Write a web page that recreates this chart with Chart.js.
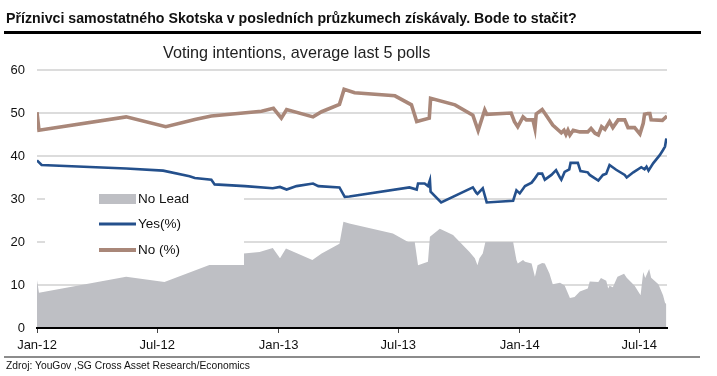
<!DOCTYPE html>
<html><head><meta charset="utf-8">
<script src="https://cdn.jsdelivr.net/npm/chart.js@4.4.1/dist/chart.umd.min.js"></script>
<style>
html,body{margin:0;padding:0;background:#fff;}
#wrap{position:relative;width:717px;height:376px;overflow:hidden;font-family:"Liberation Sans",Arial,sans-serif;}
#c{position:absolute;left:0;top:0;}
#title{position:absolute;left:6px;top:10px;font-weight:bold;font-size:14.2px;line-height:16px;color:#111;white-space:nowrap;}
#rule{position:absolute;left:4px;top:31px;width:697px;height:3px;background:#000;}
#sub{position:absolute;left:163px;top:43px;font-size:16.2px;line-height:19px;color:#222;white-space:nowrap;}
#brule{position:absolute;left:4px;top:356px;width:696px;height:2px;background:#8c8c8c;}
#src{position:absolute;left:6px;top:359px;font-size:10.3px;line-height:13px;color:#111;white-space:nowrap;}
</style></head>
<body>
<div id="wrap">
<canvas id="c" width="717" height="376"></canvas>
<div id="title">Příznivci samostatného Skotska v posledních průzkumech získávaly. Bode to stačit?</div>
<div id="rule"></div>
<div id="sub">Voting intentions, average last 5 polls</div>
<div id="brule"></div>
<div id="src">Zdroj: YouGov ,SG Cross Asset Research/Economics</div>
</div>
<script>
// x values: days since 1 Jan 2012
const tickDays = [0, 182, 366, 547, 731, 912];
const tickLabels = ['Jan-12', 'Jul-12', 'Jan-13', 'Jul-13', 'Jan-14', 'Jul-14'];
const legendLabels = ['No Lead', 'Yes(%)', 'No (%)'];

const noDays = [0,3,135,195,239,264,340,358,370,378,418,431,458,465,481,542,567,575,594,596,633,660,668,678,681,718,723,728,736,741,751,754,756,765,771,781,794,798,801,804,807,812,822,834,839,845,850,855,860,867,872,880,890,895,905,913,918,920,925,928,930,947,954];
const noValues = [50.2,46.0,49.1,46.8,48.5,49.3,50.4,51.1,48.8,50.8,49.1,50.3,52.0,55.5,54.7,54.0,51.9,48.0,48.8,53.4,51.9,49.5,45.9,50.7,49.7,50.0,48.0,46.8,49.1,48.4,48.4,46.4,49.8,50.8,49.5,47.2,45.4,46.0,45.0,46.0,44.9,46.0,45.6,45.6,46.4,45.3,44.9,46.8,46.2,48.0,46.6,48.4,48.4,46.6,46.6,45.1,47.6,49.7,49.9,49.9,48.4,48.3,49.3];

const yesDays = [0,7,135,191,231,239,264,269,315,357,368,378,393,418,426,458,466,473,564,575,577,587,592,595,596,612,660,665,667,675,681,721,726,731,739,749,754,759,765,769,779,786,792,794,799,806,808,819,823,834,837,850,857,862,867,877,890,893,903,915,920,923,926,933,943,948,951,953];
const yesValues = [39.0,37.9,37.1,36.6,35.3,34.9,34.5,33.4,33.0,32.5,32.8,32.2,33.0,33.6,33.0,32.7,30.5,30.6,32.7,32.2,33.6,33.6,33.0,34.4,31.7,29.2,32.7,31.5,31.2,32.5,29.2,29.6,32.0,31.3,33.0,33.8,34.8,35.9,35.9,34.5,35.6,36.7,35.0,34.5,36.3,36.9,38.4,38.4,36.5,36.2,35.6,34.3,35.6,35.9,37.9,36.8,35.6,35.0,36.2,37.4,36.9,37.5,36.6,38.3,40.2,41.4,42.2,44.1];

const leadDays = [0,3,135,193,239,264,269,313,337,357,368,377,417,431,458,464,473,539,562,572,577,592,595,610,630,655,663,667,670,675,679,721,726,728,736,739,749,754,758,765,769,776,781,792,799,807,814,822,834,837,850,854,862,865,867,872,879,889,893,905,914,918,921,927,930,941,948,951,953];
const leadValues = [11.1,8.2,11.9,10.7,13.4,14.8,16.0,17.3,17.7,18.6,16.2,18.5,15.8,17.3,19.6,24.7,24.3,22.0,20.0,20.0,14.6,15.4,21.2,23.1,21.6,17.7,16.2,14.6,16.2,17.3,20.0,20.0,15.8,15.0,15.8,15.4,15.0,11.9,14.6,15.1,15.0,12.7,10.2,10.5,9.9,7.0,7.2,8.5,9.2,10.8,10.7,11.6,11.0,9.2,9.8,9.5,11.9,12.6,11.7,9.8,7.6,13.0,11.6,13.7,11.7,10.2,7.6,5.9,5.5];

const COL_YES = '#24508c', COL_NO = '#a98779', COL_LEAD = '#bebfc4';
const pts = (d, v) => d.map((x, i) => ({x: x, y: v[i]}));

const legendBox = {
  id: 'legendBox',
  afterDatasetsDraw(chart) {
    const c = chart.ctx, a = chart.chartArea;
    const bx = a.left + 8, by = a.top + 120;
    c.save();
    c.fillStyle = '#fff';
    c.fillRect(bx, by, 199, 75);
    const sx = a.left + 62, sw = 37, tx = a.left + 101;
    const rows = [a.top + 129, a.top + 154, a.top + 180];
    c.font = '13.5px "Liberation Sans", Arial, sans-serif';
    c.textBaseline = 'middle';
    c.fillStyle = COL_LEAD;
    c.fillRect(sx, rows[0] - 5, sw, 10);
    c.lineCap = 'butt';
    c.strokeStyle = COL_YES; c.lineWidth = 2.8;
    c.beginPath(); c.moveTo(sx, rows[1]); c.lineTo(sx + sw, rows[1]); c.stroke();
    c.strokeStyle = COL_NO; c.lineWidth = 3.8;
    c.beginPath(); c.moveTo(sx, rows[2]); c.lineTo(sx + sw, rows[2]); c.stroke();
    c.fillStyle = '#111';
    legendLabels.forEach((t, i) => c.fillText(t, tx, rows[i] + 0.5));
    c.restore();
  }
};

new Chart(document.getElementById('c'), {
  type: 'line',
  data: {
    datasets: [
      {label: 'Yes(%)', data: pts(yesDays, yesValues), borderColor: COL_YES, borderWidth: 2.6, pointRadius: 0, fill: false, tension: 0, order: 1},
      {label: 'No (%)', data: pts(noDays, noValues), borderColor: COL_NO, borderWidth: 3.6, pointRadius: 0, fill: false, tension: 0, order: 2},
      {label: 'No Lead', data: pts(leadDays, leadValues), borderColor: 'rgba(0,0,0,0)', borderWidth: 0, backgroundColor: COL_LEAD, fill: 'origin', pointRadius: 0, tension: 0, order: 3}
    ]
  },
  options: {
    responsive: false,
    animation: false,
    devicePixelRatio: 1,
    layout: {padding: {left: 0, right: 50, top: 70, bottom: 0}},
    plugins: {legend: {display: false}, tooltip: {enabled: false}, title: {display: false}},
    scales: {
      x: {
        type: 'linear', min: 0, max: 954,
        afterFit(s) { s.height = 48; },
        afterBuildTicks(s) { s.ticks = tickDays.map(v => ({value: v})); },
        ticks: {autoSkip: false, maxRotation: 0, padding: 5, color: '#111',
          font: {family: '"Liberation Sans", Arial, sans-serif', size: 13},
          callback: (v) => tickLabels[tickDays.indexOf(v)]},
        grid: {drawOnChartArea: false, drawTicks: true, tickLength: 5, color: '#444', lineWidth: 1},
        border: {display: true, color: '#000', width: 2, z: 1}
      },
      y: {
        min: 0, max: 60,
        afterFit(s) { s.width = 37; },
        ticks: {stepSize: 10, padding: 12, color: '#111',
          font: {family: '"Liberation Sans", Arial, sans-serif', size: 13}},
        grid: {color: '#dcdcdc', lineWidth: 2, drawTicks: false},
        border: {display: false}
      }
    }
  },
  plugins: [legendBox]
});
</script>
</body></html>
